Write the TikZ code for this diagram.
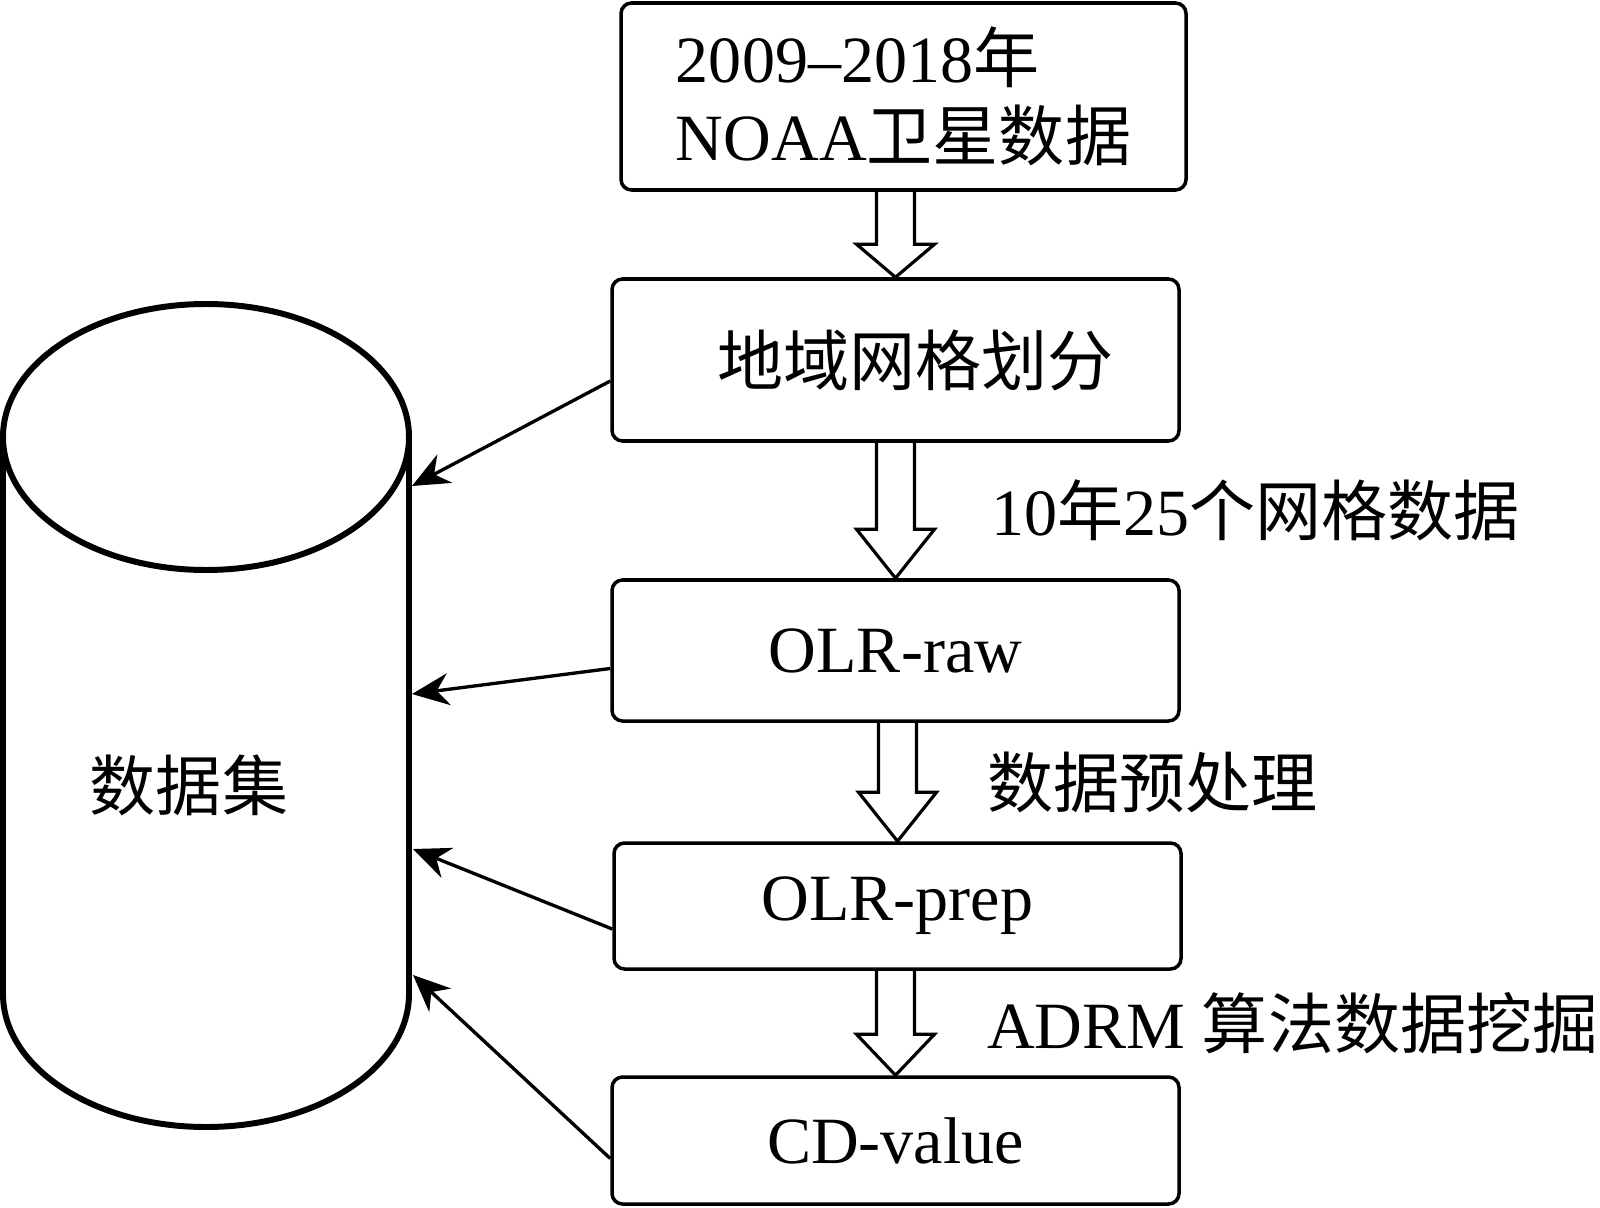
\documentclass[tikz,border=0pt]{standalone}
\usepackage{fontspec}
\setmainfont{Liberation Serif}
\newfontfamily\zh{Noto Sans CJK SC}
\usetikzlibrary{calc,arrows.meta}
\tikzset{
  box/.style={draw,line width=1pt,rounded corners=3pt,minimum width=5.67cm},
  hollow/.style={draw,line width=0.9pt,line join=miter},
  feed/.style={->,line width=0.95pt},
  note/.style={anchor=west,inner sep=0pt},
  dbline/.style={line width=1.7pt},
}
% hollow block arrow from the bottom of #1 to the top of #2, head length #3
\newcommand{\hollowarrow}[3]{%
  \draw[hollow] let \p1=(#1.south), \p2=(#2.north) in
    (\x2-0.19cm,\y1) -- (\x2-0.19cm,\y2+#3) -- (\x2-0.39cm,\y2+#3) -- (\x2,\y2)
    -- (\x2+0.39cm,\y2+#3) -- (\x2+0.19cm,\y2+#3) -- (\x2+0.19cm,\y1);}
\begin{document}
\begin{tikzpicture}[>={Stealth[length=3.7mm,width=3.2mm,inset=1.2mm]},font=\fontsize{18.8pt}{22pt}\selectfont]
	\useasboundingbox (0,0) rectangle (16,-12.07);
	% cylinder
	\draw[dbline] (2.06,-4.37) ellipse [x radius=2.03, y radius=1.33];
	\draw[dbline] (0.03,-4.37) -- (0.03,-9.94) arc[start angle=180,end angle=360,x radius=2.03,y radius=1.33] -- (4.09,-4.37);
	\node (db) at (1.89,-7.85) {\zh 数据集};
	\coordinate (dbin1) at (4.12,-4.86);
	\coordinate (dbin2) at (4.12,-6.94);
	\coordinate (dbin3) at (4.13,-8.49);
	\coordinate (dbin4) at (4.13,-9.75);
	% boxes
	\node[box,minimum width=5.65cm,minimum height=1.87cm,align=left] (src) at (9.035,-0.965) {2009–2018{\zh 年}\\NOAA{\zh 卫星数据}};
	\node[box,minimum height=1.62cm] (grid) at (8.955,-3.60) {\hspace*{0.4cm}\zh 地域网格划分};
	\node[box,minimum height=1.41cm] (raw) at (8.955,-6.505) {OLR-raw};
	\node[box,minimum height=1.26cm] (prep) at (8.975,-9.06) {OLR-prep};
	\node[box,minimum height=1.27cm] (cd) at (8.955,-11.405) {CD-value};
	% flow
	\hollowarrow{src}{grid}{0.33cm}
	\hollowarrow{grid}{raw}{0.49cm}
	\hollowarrow{raw}{prep}{0.49cm}
	\hollowarrow{prep}{cd}{0.41cm}
	\node[note] (lblgrid) at ($(grid.south)!0.5!(raw.north)+(0.95,0)$) {10{\zh 年}25{\zh 个网格数据}};
	\node[note] (lblprep) at ($(raw.south)!0.5!(prep.north)+(0.90,0)$) {\zh 数据预处理};
	\node[note] (lblmine) at ($(prep.south)!0.5!(cd.north)+(0.90,0)$) {ADRM {\zh 算法数据挖掘}};
	% into the data set
	\draw[feed] ([yshift=-0.21cm]grid.west) -- (dbin1);
	\draw[feed] ([yshift=-0.18cm]raw.west) -- (dbin2);
	\draw[feed] ([yshift=-0.23cm]prep.west) -- (dbin3);
	\draw[feed] ([yshift=-0.18cm]cd.west) -- (dbin4);
\end{tikzpicture}
\end{document}
